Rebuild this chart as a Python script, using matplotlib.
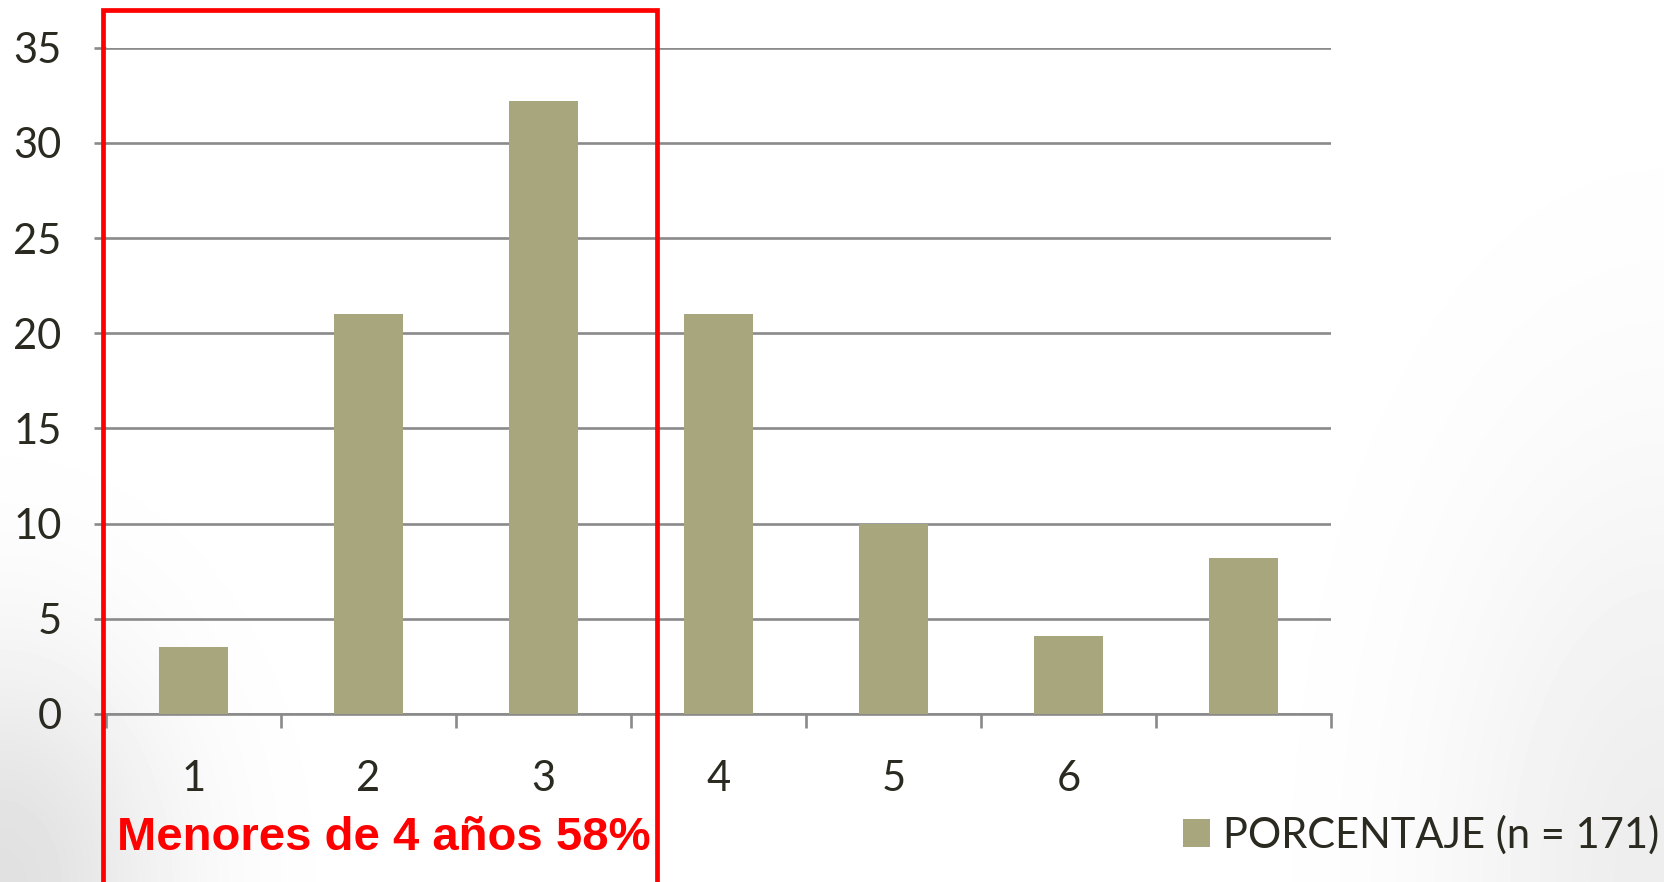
import numpy as np
import matplotlib.pyplot as plt
from matplotlib.patches import Patch, Rectangle

categories = ["1", "2", "3", "4", "5", "6", ""]
porcentaje = [3.5, 21.0, 32.2, 21.0, 10.0, 4.1, 8.2]
y_ticks = [0, 5, 10, 15, 20, 25, 30, 35]
legend_label = "PORCENTAJE (n = 171)"
box_label = "Menores de 4 años 58%"

bar_color = "#A8A67C"
grid_color = "#8A8A8A"
text_color = "#2A2A20"

plt.rcParams['font.family'] = ['Lato', 'DejaVu Sans']

fig = plt.figure(figsize=(16.64, 8.82), dpi=100)

# soft grey shading in the lower corners of the slide
bg = fig.add_axes([0, 0, 1, 1], zorder=-10)
gx, gy = np.meshgrid(np.arange(1664), np.arange(882))
shade = 0.12 * np.exp(-((gx / 170.0) ** 2 + ((882 - gy) / 230.0) ** 2))
shade += 0.07 * np.exp(-(((1664 - gx) / 220.0) ** 2 + ((882 - gy) / 420.0) ** 2))
bg.imshow(1 - shade, cmap='gray', vmin=0, vmax=1, aspect='auto')
bg.axis('off')

ax = fig.add_axes([0.0637, 0.1905, 0.7362, 0.7555])
ax.patch.set_alpha(0)

x = list(range(len(porcentaje)))
ax.bar(x, porcentaje, width=0.39, color=bar_color, zorder=3)

ax.set_xlim(-0.5, len(porcentaje) - 0.5)
ax.set_ylim(0, 35)

# horizontal gridlines
ax.set_yticks(y_ticks)
ax.yaxis.grid(True, color=grid_color, linewidth=1.9, zorder=1)
ax.tick_params(axis='y', length=9, width=1.9, color=grid_color,
               labelsize=30, labelcolor=text_color, pad=23)

# category boundaries as major ticks, labels on minor ticks at centres
ax.set_xticks([i - 0.5 for i in range(len(porcentaje) + 1)])
ax.set_xticklabels([])
ax.set_xticks(x, minor=True)
ax.set_xticklabels(categories, minor=True)
ax.tick_params(axis='x', which='major', length=10, width=1.9, color=grid_color)
ax.tick_params(axis='x', which='minor', length=0, labelsize=30,
               labelcolor=text_color, pad=33)

for side in ['top', 'right', 'left']:
    ax.spines[side].set_visible(False)
ax.spines['bottom'].set_color(grid_color)
ax.spines['bottom'].set_linewidth(1.9)

# red box around the first three groups
box = Rectangle((-0.518, -12), 3.168, 49, fill=False, edgecolor='#FF0000',
                linewidth=3.4, clip_on=False, zorder=5)
ax.add_patch(box)

fig.text(384 / 1664, 1 - 838 / 882, box_label, color='#FF0000',
         fontsize=34, fontweight='bold', family='Liberation Sans',
         ha='center', va='center')

handle = Patch(facecolor=bar_color, edgecolor='none')
fig.legend(handles=[handle], labels=[legend_label], loc='center left',
           bbox_to_anchor=(1183 / 1664, 1 - 835 / 882), frameon=False,
           borderpad=0, borderaxespad=0, handlelength=0.65, handleheight=0.65,
           handletextpad=0.3, fontsize=30, labelcolor=text_color)

fig.savefig("out.png", dpi=100, facecolor='white')
